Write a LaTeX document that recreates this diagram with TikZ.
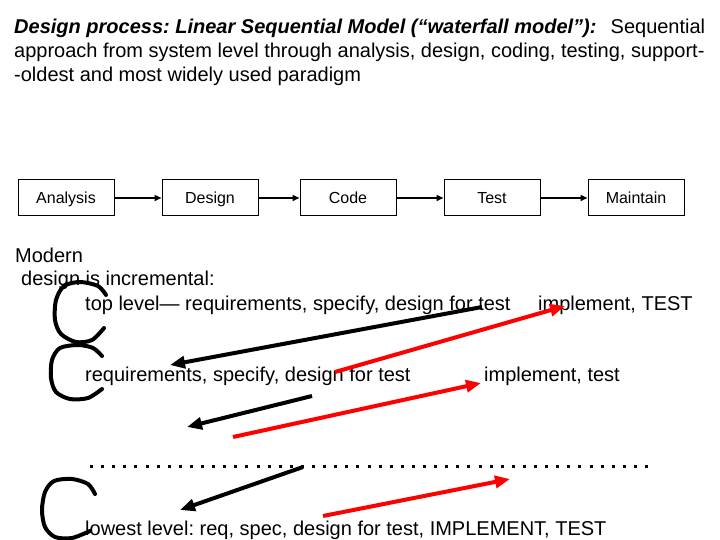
\documentclass[tikz,border=0pt]{standalone}
\usepackage{fontspec}
\setmainfont{Liberation Sans}
\frenchspacing
\usetikzlibrary{arrows.meta}
\tikzset{
  stage/.style={draw, line width=1pt, minimum width=96pt, minimum height=36pt, inner sep=0pt, text height=12pt, text depth=1.4pt, font=\fontsize{16}{19}\selectfont},
  flow/.style={line width=2pt, -{Triangle[length=7pt,width=6pt]}},
  txt/.style={anchor=base west, inner sep=0pt, font=\fontsize{20}{24}\selectfont},
  backarrow/.style={line width=4pt, -{Triangle[length=15pt,width=12pt]}},
  fwdarrow/.style={backarrow, red},
  hand/.style={line width=4pt, line cap=round, line join=round}
}
\begin{document}
\begin{tikzpicture}[x=1pt, y=-1pt]
  \useasboundingbox (0,0) rectangle (720,540);

  % Titulo
  \node[txt] (title1) at (14,34) {\makebox[691pt][l]{\textbf{\textit{Design process: Linear Sequential Model (“waterfall model”):}}\hfill Sequential}};
  \node[txt] (title2) at (14,58) {approach from system level through analysis, design, coding, testing, support-};
  \node[txt] (title3) at (14,82) {-oldest and most widely used paradigm};

  % Etapas del modelo en cascada
  \node[stage] (analysis) at (66,198) {Analysis};
  \node[stage] (design) at (210,198) {Design};
  \node[stage] (code) at (348,198) {Code};
  \node[stage] (test) at (492,198) {Test};
  \node[stage] (maintain) at (636,198) {Maintain};
  \draw[flow] (analysis) -- (design);
  \draw[flow] (design) -- (code);
  \draw[flow] (code) -- (test);
  \draw[flow] (test) -- (maintain);

  % Diseno incremental
  \node[txt] (modern) at (15,262) {Modern};
  \node[txt] (incr) at (21,285) {design is incremental:};
  \node[txt] (top) at (85,310) {top level— requirements, specify, design for test};
  \node[txt] (topimpl) at (538,310) {implement, TEST};
  \node[txt] (mid) at (85,381) {requirements, specify, design for test};
  \node[txt] (midimpl) at (484,381) {implement, test};
  \node[txt] (low) at (85,535) {lowest level: req, spec, design for test, IMPLEMENT, TEST};

  % Puntos suspensivos
  \draw[line width=3pt, dash pattern=on 3pt off 8.1pt] (90,466) -- (656,466);

  % Llaves a mano
  \draw[hand] plot[smooth] coordinates {(106,295) (98,286) (80,282) (64,286) (56,300) (55,320) (61,334) (76,342) (92,340) (104,328)};
  \draw[hand] plot[smooth] coordinates {(102,356) (93,348) (78,345) (60,348) (52,360) (51,378) (56,392) (70,399) (88,398) (102,389)};
  \draw[hand] plot[smooth] coordinates {(95,494) (88,484) (72,479) (54,481) (45,492) (42,510) (45,527) (55,537) (72,538) (90,531)};

  % Flechas entre niveles
  \coordinate (b1s) at (482,307); \coordinate (b1e) at (170,365);
  \coordinate (r1s) at (335,372); \coordinate (r1e) at (565,306);
  \coordinate (b2s) at (312,396); \coordinate (b2e) at (187,427);
  \coordinate (r2s) at (233,437); \coordinate (r2e) at (481,383);
  \coordinate (b3s) at (303,467); \coordinate (b3e) at (180,510);
  \coordinate (r3s) at (323,516); \coordinate (r3e) at (510,479);
  \draw[backarrow] (b1s) -- (b1e);
  \draw[fwdarrow] (r1s) -- (r1e);
  \draw[backarrow] (b2s) -- (b2e);
  \draw[fwdarrow] (r2s) -- (r2e);
  \draw[backarrow] (b3s) -- (b3e);
  \draw[fwdarrow] (r3s) -- (r3e);
\end{tikzpicture}
\end{document}
